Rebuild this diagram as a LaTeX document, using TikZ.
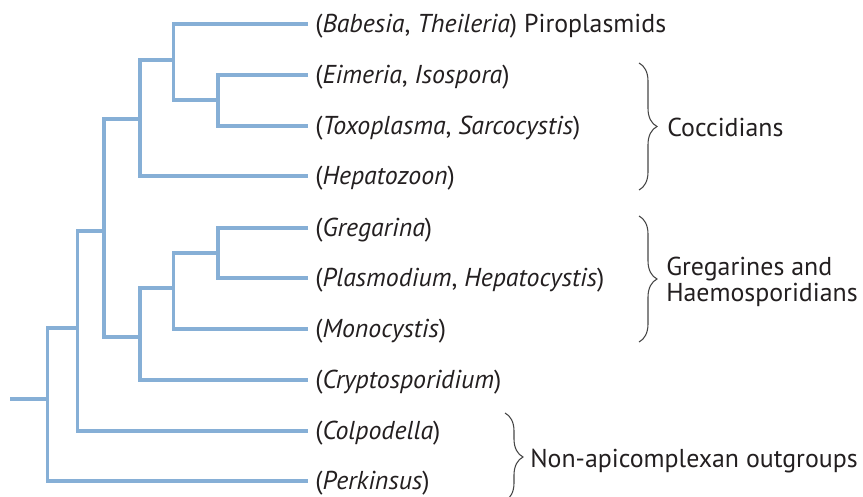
\documentclass[tikz,border=0pt]{standalone}
\usepackage{fontspec}
\setmainfont{PT Sans}
\usetikzlibrary{decorations.pathreplacing}
\definecolor{treeblue}{RGB}{134,175,214}
\definecolor{txt}{RGB}{35,31,32}
\definecolor{bracegray}{RGB}{70,70,70}
\tikzset{
  branch/.style={draw=treeblue, line width=2.6pt, line join=miter},
  leaf/.style={anchor=base west, inner sep=0pt, text=txt, font=\fontsize{19.4pt}{20pt}\selectfont},
  group/.style={anchor=base west, inner sep=0pt, text=txt, align=left, font=\fontsize{19.4pt}{19.5pt}\selectfont},
  clade/.style={draw=bracegray, line width=0.8pt, decorate, decoration={brace, amplitude=13.5pt}}
}
\begin{document}
\begin{tikzpicture}[x=0.75pt, y=-0.75pt]
\useasboundingbox (0,0) rectangle (863,496);
\clip (0,0) rectangle (863,496);
% leaf tips
\coordinate (tB) at (308,24);
\coordinate (tE) at (308,75);
\coordinate (tT) at (308,126);
\coordinate (tH) at (308,176);
\coordinate (tG) at (308,228);
\coordinate (tP) at (308,278);
\coordinate (tM) at (308,329);
\coordinate (tC) at (308,380);
\coordinate (tCo) at (308,431);
\coordinate (tPe) at (308,481);
% internal nodes
\coordinate (n1) at (218,100);
\coordinate (n2) at (173.5,60);
\coordinate (n3) at (140,119);
\coordinate (n4) at (218,253);
\coordinate (n5) at (173.5,288);
\coordinate (n6) at (140,337);
\coordinate (n7) at (104,231);
\coordinate (n8) at (77.7,328);
\coordinate (n9) at (47.7,399);
\coordinate (root) at (10,399);
% branches
\draw[branch] (tE) -| (n1) |- (tT);
\draw[branch] (tB) -| (n2) |- (n1);
\draw[branch] (n2) -| (n3) |- (tH);
\draw[branch] (tG) -| (n4) |- (tP);
\draw[branch] (n4) -| (n5) |- (tM);
\draw[branch] (n5) -| (n6) |- (tC);
\draw[branch] (n3) -| (n7) |- (n6);
\draw[branch] (n7) -| (n8) |- (tCo);
\draw[branch] (n8) -| (n9) |- (tPe);
\draw[branch] (root) -- (n9);
% labels
\tikzset{leafshift/.style={xshift=5.25pt, yshift=-6pt}}
\node[leaf] (lB) at ([leafshift]tB) {(\textit{Babesia}, \textit{Theileria}) Piroplasmids};
\node[leaf] (lE) at ([leafshift]tE) {(\textit{Eimeria}, \textit{Isospora})};
\node[leaf] (lT) at ([leafshift]tT) {(\textit{Toxoplasma}, \textit{Sarcocystis})};
\node[leaf] (lH) at ([leafshift]tH) {(\textit{Hepatozoon})};
\node[leaf] (lG) at ([leafshift]tG) {(\textit{Gregarina})};
\node[leaf] (lP) at ([leafshift]tP) {(\textit{Plasmodium}, \textit{Hepatocystis})};
\node[leaf] (lM) at ([leafshift]tM) {(\textit{Monocystis})};
\node[leaf] (lC) at ([leafshift]tC) {(\textit{Cryptosporidium})};
\node[leaf] (lCo) at ([leafshift]tCo) {(\textit{Colpodella})};
\node[leaf] (lPe) at ([leafshift]tPe) {(\textit{Perkinsus})};
% braces
\coordinate (b1t) at (639,63);
\coordinate (b1b) at (639,190);
\coordinate (b2t) at (639,216);
\coordinate (b2b) at (639,342);
\coordinate (b3t) at (505,413);
\coordinate (b3b) at (505,501);
\draw[clade] (b1t) -- (b1b);
\draw[clade] (b2t) -- (b2b);
\draw[clade] (b3t) -- (b3b);
\node[group] (gC) at (667,136) {Coccidians};
\node[group] (gG) at (666,301) {Gregarines and\\Haemosporidians};
\node[group] (gN) at (530,467) {Non-apicomplexan outgroups};
\end{tikzpicture}
\end{document}
